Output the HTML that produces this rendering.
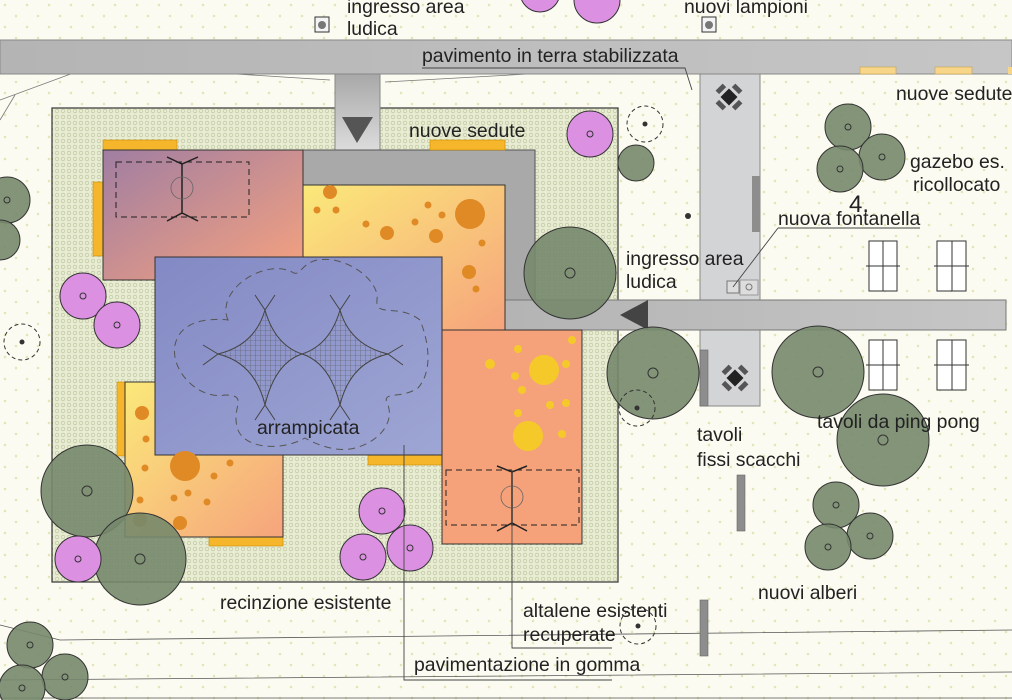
<!DOCTYPE html>
<html><head><meta charset="utf-8"><style>
html,body{margin:0;padding:0;background:#fbfbf1;}
svg{display:block}
text{font-family:"Liberation Sans",sans-serif;fill:#222;font-size:19.4px}
</style></head><body>
<svg width="1012" height="700" viewBox="0 0 1012 700" xmlns="http://www.w3.org/2000/svg">
<defs>
<pattern id="dots" width="22" height="22" patternUnits="userSpaceOnUse">
<circle cx="5" cy="5" r="1.3" fill="#e4e6b8"/><circle cx="16" cy="16" r="1.3" fill="#e4e6b8"/></pattern>
<pattern id="hex" width="6" height="6" patternUnits="userSpaceOnUse">
<rect width="6" height="6" fill="#e8ecd2"/><circle cx="3" cy="3" r="1.8" fill="none" stroke="#b9c29a" stroke-width="0.6"/></pattern>
<pattern id="grid" width="5" height="5" patternUnits="userSpaceOnUse">
<path d="M0 0H5M0 0V5" stroke="#555" stroke-width="0.6"/></pattern>
<linearGradient id="gMauve" x1="0" y1="0" x2="1" y2="1"><stop offset="0" stop-color="#a07ea2"/><stop offset="1" stop-color="#f7a27e"/></linearGradient>
<linearGradient id="gYel" x1="0" y1="0" x2="1" y2="1"><stop offset="0" stop-color="#fbe97a"/><stop offset="1" stop-color="#f6a47c"/></linearGradient>
<linearGradient id="gBlue" x1="0" y1="0" x2="1" y2="1"><stop offset="0" stop-color="#8389c4"/><stop offset="1" stop-color="#9ea6d4"/></linearGradient>
<linearGradient id="gGray" x1="0" y1="0" x2="1" y2="0"><stop offset="0" stop-color="#b4b4b4"/><stop offset="1" stop-color="#c6c6c6"/></linearGradient>
<linearGradient id="gConn" x1="0" y1="0" x2="0" y2="1"><stop offset="0" stop-color="#a8a8a8"/><stop offset="1" stop-color="#dcdcdc"/></linearGradient>
</defs>
<rect width="1012" height="700" fill="#fbfbf1"/>
<rect width="1012" height="700" fill="url(#dots)"/>

<path d="M0 100 L95 65 L330 80 M0 120 L15 95 M385 82 L690 65" stroke="#777" stroke-width="0.8" fill="none"/>
<path d="M0 625 L60 640 L1012 630 M0 680 L1012 672 M0 698 L1012 698" stroke="#555" stroke-width="0.8" fill="none"/>

<rect x="0" y="40" width="1012" height="34" fill="url(#gGray)" stroke="#888" stroke-width="1"/>
<rect x="860" y="67" width="36" height="7" fill="#f7d68a" stroke="#c9a14a" stroke-width="0.6"/>
<rect x="935" y="67" width="37" height="7" fill="#f7d68a" stroke="#c9a14a" stroke-width="0.6"/>
<rect x="1008" y="67" width="6" height="7" fill="#f7d68a"/>

<rect x="700" y="74" width="60" height="332" fill="#d3d4d6" stroke="#888" stroke-width="1"/>
<rect x="752" y="176" width="8" height="56" fill="#8d8d8d"/>
<rect x="700" y="350" width="8" height="56" fill="#8d8d8d" stroke="#666" stroke-width="0.6"/>

<rect x="52" y="108" width="566" height="474" fill="url(#hex)" stroke="#333" stroke-width="1.2"/>

<rect x="335" y="74" width="45" height="76" fill="url(#gConn)" stroke="#888"/>
<polygon points="342,117 373,117 357,143" fill="#555"/>

<path d="M303 150 H535 V330 H505 V185 H303 Z" fill="#a9a9a9" stroke="#555" stroke-width="1"/>

<rect x="505" y="300" width="501" height="30" fill="url(#gGray)" stroke="#777"/>
<polygon points="620,315 648,300 648,330" fill="#444"/>

<g fill="#f6b62b" stroke="#c78b00" stroke-width="0.6">
<rect x="103" y="140" width="74" height="10"/>
<rect x="93" y="182" width="10" height="74"/>
<rect x="430" y="140" width="75" height="10"/>
<rect x="117" y="382" width="8" height="74"/>
<rect x="209" y="537" width="74" height="9"/>
<rect x="368" y="455" width="74" height="10"/>
</g>

<rect x="103" y="150" width="200" height="130" fill="url(#gMauve)" stroke="#333"/>
<rect x="303" y="185" width="202" height="145" fill="url(#gYel)" stroke="#333"/>
<rect x="125" y="382" width="158" height="155" fill="url(#gYel)" stroke="#333"/>
<rect x="442" y="330" width="140" height="214" fill="#f5a27b" stroke="#333"/>
<rect x="155" y="257" width="287" height="198" fill="url(#gBlue)" stroke="#333"/>

<g fill="#e08a25">
<circle cx="330" cy="192" r="7"/><circle cx="317" cy="210" r="3.5"/><circle cx="336" cy="210" r="3.5"/>
<circle cx="387" cy="233" r="7"/><circle cx="366" cy="224" r="3.5"/><circle cx="428" cy="205" r="3.5"/>
<circle cx="442" cy="215" r="3.5"/><circle cx="415" cy="222" r="3.5"/><circle cx="436" cy="236" r="7"/>
<circle cx="470" cy="214" r="15"/><circle cx="482" cy="243" r="3.5"/><circle cx="469" cy="272" r="7"/>
<circle cx="476" cy="289" r="3.5"/>
<circle cx="142" cy="413" r="7"/><circle cx="146" cy="439" r="3.5"/><circle cx="145" cy="468" r="3.5"/>
<circle cx="185" cy="466" r="15"/><circle cx="230" cy="463" r="3.5"/><circle cx="214" cy="476" r="3.5"/>
<circle cx="188" cy="493" r="3.5"/><circle cx="174" cy="498" r="3.5"/><circle cx="207" cy="502" r="3.5"/>
<circle cx="140" cy="500" r="3.5"/><circle cx="180" cy="523" r="7"/><circle cx="140" cy="520" r="7"/>
</g>
<g fill="#f6c92a">
<circle cx="544" cy="370" r="15"/><circle cx="528" cy="436" r="15"/><circle cx="490" cy="364" r="5"/>
<circle cx="518" cy="349" r="4"/><circle cx="572" cy="340" r="4"/><circle cx="566" cy="364" r="4"/>
<circle cx="522" cy="390" r="4"/><circle cx="515" cy="376" r="4"/><circle cx="550" cy="405" r="4"/>
<circle cx="566" cy="403" r="4"/><circle cx="562" cy="434" r="4"/><circle cx="518" cy="413" r="4"/>
</g>

<g stroke="#222" fill="none" stroke-width="1" stroke-dasharray="6,4">
<rect x="116" y="162" width="133" height="55"/>
<rect x="446" y="470" width="133" height="55"/>
</g>
<g stroke="#222" stroke-width="1.5" fill="none">
<path d="M182 163 V214 M167 157 L182 164 L198 157 M167 221 L182 213 L198 221"/>
<path d="M512 471 V524 M497 466 L512 472 L527 466 M497 531 L512 523 L527 531"/>
</g>
<circle cx="182" cy="188" r="11" fill="none" stroke="#666" stroke-width="0.8"/>
<circle cx="512" cy="497" r="11" fill="none" stroke="#666" stroke-width="0.8"/>

<path d="M228 320 C215 290 265 258 292 272 C300 278 302 262 318 260 C345 255 380 280 377 300 C375 318 398 303 420 320 C430 345 432 372 418 388 C400 400 380 390 388 405 C395 425 375 445 350 449 C330 452 308 440 305 438 C280 452 245 448 238 430 C230 408 250 395 225 395 C200 400 170 372 175 345 C180 320 210 318 228 320 Z" fill="none" stroke="#555" stroke-dasharray="7,5" stroke-width="1"/>
<path d="M218 354 Q255 345 265 310 Q275 345 302 354 Q275 363 265 405 Q255 363 218 354 Z M302 354 Q330 345 340 310 Q350 345 388 354 Q350 363 340 405 Q330 363 302 354 Z" fill="url(#grid)" stroke="#444" stroke-width="1"/>
<path d="M255 295 L265 310 L275 295 M255 420 L265 405 L275 420 M330 295 L340 310 L350 295 M330 420 L340 405 L350 420 M203 345 L218 354 L203 365 M403 345 L388 354 L403 365" stroke="#444" fill="none"/>

<g fill="#75886b" fill-opacity="0.9" stroke="#333" stroke-width="1">
<circle cx="7" cy="200" r="23"/><circle cx="0" cy="240" r="20"/>
<circle cx="848" cy="127" r="23"/><circle cx="882" cy="157" r="23"/><circle cx="840" cy="169" r="23"/>
<circle cx="636" cy="163" r="18"/>
<circle cx="570" cy="273" r="46"/>
<circle cx="653" cy="373" r="46"/>
<circle cx="818" cy="372" r="46"/>
<circle cx="883" cy="440" r="46"/>
<circle cx="836" cy="505" r="23"/><circle cx="870" cy="536" r="23"/><circle cx="828" cy="547" r="23"/>
<circle cx="87" cy="491" r="46"/><circle cx="140" cy="559" r="46"/>
<circle cx="30" cy="645" r="23"/><circle cx="65" cy="677" r="23"/><circle cx="22" cy="688" r="23"/>
</g>
<g fill="#dc90e2" stroke="#333" stroke-width="1">
<circle cx="590" cy="134" r="23"/><circle cx="83" cy="296" r="23"/><circle cx="117" cy="325" r="23"/>
<circle cx="382" cy="511" r="23"/><circle cx="410" cy="548" r="23"/><circle cx="363" cy="557" r="23"/>
<circle cx="78" cy="559" r="23"/><circle cx="540" cy="-8" r="20"/><circle cx="597" cy="0" r="23"/>
</g>
<g fill="none" stroke="#333" stroke-width="1">
<circle cx="7" cy="200" r="3"/><circle cx="848" cy="127" r="3"/><circle cx="882" cy="157" r="3"/><circle cx="840" cy="169" r="3"/>
<circle cx="570" cy="273" r="5"/><circle cx="653" cy="373" r="5"/><circle cx="818" cy="372" r="5"/><circle cx="883" cy="440" r="5"/>
<circle cx="836" cy="505" r="3"/><circle cx="870" cy="536" r="3"/><circle cx="828" cy="547" r="3"/>
<circle cx="87" cy="491" r="5"/><circle cx="140" cy="559" r="5"/>
<circle cx="30" cy="645" r="3"/><circle cx="65" cy="677" r="3"/><circle cx="22" cy="688" r="3"/>
<circle cx="590" cy="134" r="3"/><circle cx="83" cy="296" r="3"/><circle cx="117" cy="325" r="3"/>
<circle cx="382" cy="511" r="3"/><circle cx="410" cy="548" r="3"/><circle cx="363" cy="557" r="3"/><circle cx="78" cy="559" r="3"/>
</g>
<g fill="none" stroke="#333" stroke-dasharray="4,3" stroke-width="1">
<circle cx="645" cy="124" r="18"/><circle cx="22" cy="342" r="18"/><circle cx="637" cy="408" r="18"/><circle cx="638" cy="626" r="18"/>
</g>
<g fill="#333"><circle cx="645" cy="124" r="2.5"/><circle cx="22" cy="342" r="2.5"/><circle cx="637" cy="408" r="2.5"/><circle cx="638" cy="626" r="2.5"/><circle cx="688" cy="216" r="3"/></g>

<g fill="#fff" stroke="#333" stroke-width="1">
<rect x="869" y="241" width="28" height="50"/><rect x="937" y="241" width="29" height="50"/>
<rect x="869" y="340" width="28" height="50"/><rect x="937" y="340" width="29" height="50"/>
</g>
<path d="M883 241V291M866 266H900M952 241V291M934 266H969M883 340V390M866 365H900M952 340V390M934 365H969" stroke="#333"/>

<g transform="translate(729,97) rotate(45)"><rect x="-6" y="-6" width="12" height="12" fill="#222"/>
<rect x="-5" y="-14" width="10" height="5" fill="#555"/><rect x="-5" y="9" width="10" height="5" fill="#555"/><rect x="-14" y="-5" width="5" height="10" fill="#555"/><rect x="9" y="-5" width="5" height="10" fill="#555"/></g>
<g transform="translate(735,378) rotate(45)"><rect x="-6" y="-6" width="12" height="12" fill="#222"/>
<rect x="-5" y="-14" width="10" height="5" fill="#555"/><rect x="-5" y="9" width="10" height="5" fill="#555"/><rect x="-14" y="-5" width="5" height="10" fill="#555"/><rect x="9" y="-5" width="5" height="10" fill="#555"/></g>
<rect x="737" y="475" width="8" height="56" fill="#8d8d8d" stroke="#666" stroke-width="0.6"/>
<rect x="700" y="600" width="8" height="56" fill="#8d8d8d" stroke="#666" stroke-width="0.6"/>

<rect x="315" y="17" width="14" height="15" fill="#f4f4f4" stroke="#333"/><circle cx="322" cy="25" r="4" fill="#777"/>
<rect x="702" y="17" width="14" height="15" fill="#f4f4f4" stroke="#333"/><circle cx="709" cy="25" r="4" fill="#777"/>
<rect x="727" y="281" width="12" height="12" fill="#ddd" stroke="#777"/><rect x="740" y="280" width="18" height="15" fill="#ddd" stroke="#999"/><circle cx="749" cy="287" r="3" fill="none" stroke="#777"/>

<path d="M404 445V680H612M512 470V648H612M778 228H920M778 228L733 287M422 68H685L692 90" stroke="#444" fill="none" stroke-width="0.9"/>

<text x="347" y="13">ingresso area</text><text x="347" y="35">ludica</text>
<text x="684" y="13">nuovi lampioni</text>
<text x="422" y="62">pavimento in terra stabilizzata</text>
<text x="409" y="137">nuove sedute</text>
<text x="896" y="100">nuove sedute</text>
<text x="910" y="168">gazebo es.</text><text x="913" y="191">ricollocato</text>
<text x="849" y="212" style="font-size:24px">4.</text>
<text x="778" y="225">nuova fontanella</text>
<text x="626" y="265">ingresso area</text><text x="626" y="288">ludica</text>
<text x="257" y="434">arrampicata</text>
<text x="697" y="441">tavoli</text><text x="697" y="466">fissi scacchi</text>
<text x="817" y="428">tavoli da ping pong</text>
<text x="758" y="599">nuovi alberi</text>
<text x="220" y="609">recinzione esistente</text>
<text x="523" y="617">altalene esistenti</text><text x="523" y="641">recuperate</text>
<text x="414" y="671">pavimentazione in gomma</text>
</svg>
</body></html>
